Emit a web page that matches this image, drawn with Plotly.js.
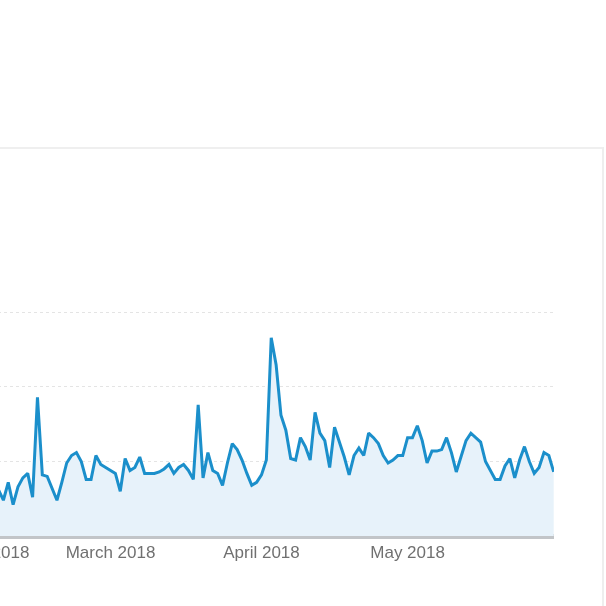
<!DOCTYPE html>
<html>
<head>
<meta charset="utf-8">
<script src="https://cdn.plot.ly/plotly-3.0.1.min.js"></script>
<style>
  html, body { margin: 0; padding: 0; background: #ffffff; width: 606px; height: 606px; overflow: hidden; position: relative; }
  #frame { position: absolute; left: -5px; top: 147px; width: 607px; height: 480px; border-top: 2px solid #efefef; border-right: 2px solid #eeeeee; }
  #chart { position: absolute; left: -80px; top: 0; width: 686px; height: 606px; filter: blur(0.6px); }
</style>
</head>
<body>
<div id="frame"></div>
<div id="chart"></div>
<script>
// Daily dates (Feb 6 – May 31, 2018)
const febDates = ["2018-02-06","2018-02-07","2018-02-08","2018-02-09","2018-02-10","2018-02-11","2018-02-12","2018-02-13","2018-02-14","2018-02-15","2018-02-16","2018-02-17","2018-02-18","2018-02-19","2018-02-20","2018-02-21","2018-02-22","2018-02-23","2018-02-24","2018-02-25","2018-02-26","2018-02-27","2018-02-28"];
const marDates = ["2018-03-01","2018-03-02","2018-03-03","2018-03-04","2018-03-05","2018-03-06","2018-03-07","2018-03-08","2018-03-09","2018-03-10","2018-03-11","2018-03-12","2018-03-13","2018-03-14","2018-03-15","2018-03-16","2018-03-17","2018-03-18","2018-03-19","2018-03-20","2018-03-21","2018-03-22","2018-03-23","2018-03-24","2018-03-25","2018-03-26","2018-03-27","2018-03-28","2018-03-29","2018-03-30","2018-03-31"];
const aprDates = ["2018-04-01","2018-04-02","2018-04-03","2018-04-04","2018-04-05","2018-04-06","2018-04-07","2018-04-08","2018-04-09","2018-04-10","2018-04-11","2018-04-12","2018-04-13","2018-04-14","2018-04-15","2018-04-16","2018-04-17","2018-04-18","2018-04-19","2018-04-20","2018-04-21","2018-04-22","2018-04-23","2018-04-24","2018-04-25","2018-04-26","2018-04-27","2018-04-28","2018-04-29","2018-04-30"];
const mayDates = ["2018-05-01","2018-05-02","2018-05-03","2018-05-04","2018-05-05","2018-05-06","2018-05-07","2018-05-08","2018-05-09","2018-05-10","2018-05-11","2018-05-12","2018-05-13","2018-05-14","2018-05-15","2018-05-16","2018-05-17","2018-05-18","2018-05-19","2018-05-20","2018-05-21","2018-05-22","2018-05-23","2018-05-24","2018-05-25","2018-05-26","2018-05-27","2018-05-28","2018-05-29","2018-05-30","2018-05-31"];

// Daily values
const febValues = [31,24,36,21,33,39,42,26,93,41,40,32,24,36,49,54,56,50,38,38,54,48,46];
const marValues = [44,42,30,52,44,46,53,42,42,42,43,45,48,42,46,48,44,38,88,39,56,44,42,34,49,62,58,51,42,34,36];
const aprValues = [41,51,133,115,81,71,52,51,66,60,51,83,69,64,46,73,63,53,41,54,59,54,69,66,62,54,49,51,54,54];
const mayValues = [66,66,74,64,49,57,57,58,66,56,43,54,64,69,66,63,50,44,38,38,47,52,39,51,60,50,42,46,56,54,43];

const dates = febDates.concat(marDates, aprDates, mayDates);
const values = febValues.concat(marValues, aprValues, mayValues);

const trace = {
  x: dates,
  y: values,
  type: 'scatter',
  mode: 'lines',
  line: { color: '#1b8fcb', width: 3 },
  fill: 'tozeroy',
  fillcolor: '#e7f2fa',
  hoverinfo: 'skip'
};

const layout = {
  width: 686,
  height: 606,
  margin: { l: 0, r: 52, t: 311, b: 70 },
  paper_bgcolor: 'rgba(0,0,0,0)',
  plot_bgcolor: 'rgba(0,0,0,0)',
  showlegend: false,
  xaxis: {
    type: 'date',
    range: ['2018-01-20 21:07', '2018-05-31 01:30'],
    dtick: 'M1',
    tick0: '2018-01-01',
    tickformat: '%B %Y',
    ticklabeloverflow: 'allow',
    ticklabelstandoff: 4,
    showgrid: false,
    zeroline: false,
    showline: false,
    ticks: '',
    tickfont: { family: 'Liberation Sans, Arial, sans-serif', size: 17, color: '#707070' },
    fixedrange: true
  },
  yaxis: {
    range: [0, 151],
    dtick: 50,
    showgrid: true,
    gridcolor: '#e4e4e4',
    griddash: 'dot',
    gridwidth: 1,
    zeroline: true,
    zerolinecolor: '#c2c5c8',
    zerolinewidth: 5,
    showticklabels: false,
    ticks: '',
    fixedrange: true
  }
};

Plotly.newPlot('chart', [trace], layout, { staticPlot: true, displayModeBar: false });
</script>
</body>
</html>
